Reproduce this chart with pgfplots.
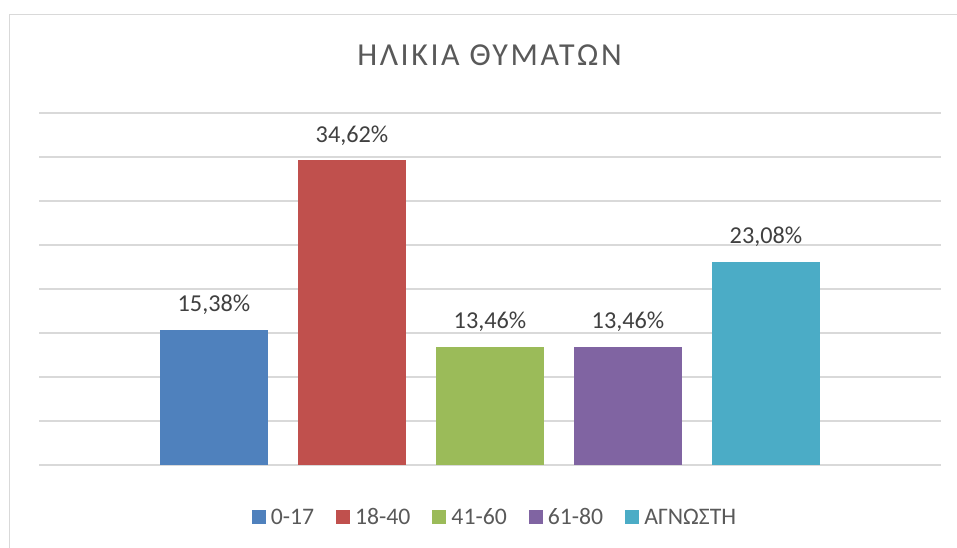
\documentclass[border=0pt]{standalone}
\usepackage{pgfplots}
\pgfplotsset{compat=1.18}
\usepackage{fontspec}
\setmainfont{Carlito}
\newfontfamily\titlefont[LetterSpace=8]{Carlito}
\definecolor{cA}{HTML}{4F81BD}
\definecolor{cB}{HTML}{C0504D}
\definecolor{cC}{HTML}{9BBB59}
\definecolor{cD}{HTML}{8064A2}
\definecolor{cE}{HTML}{4BACC6}
\definecolor{gridc}{HTML}{D9D9D9}
\definecolor{titlec}{HTML}{595959}
\definecolor{labc}{HTML}{404040}
\begin{document}
\begin{tikzpicture}[x=0.75pt,y=0.75pt]
\begin{axis}[
  scale only axis, width=676.5pt, height=264pt,
  xmin=-1.268, xmax=5.268, ymin=0, ymax=40,
  ytick={0,5,...,40}, yticklabels={}, xtick=\empty,
  major tick length=0pt,
  ymajorgrids, grid style={gridc, line width=1.1pt},
  axis line style={draw=none},
  ybar, bar width=0.7826, bar shift=0pt,
  point meta=explicit symbolic,
  nodes near coords,
  every node near coord/.append style={anchor=base, inner sep=0pt, yshift=13.5pt, text=labc, font=\fontsize{18.2}{21}\selectfont},
  legend columns=5,
  legend cell align=left,
  legend style={at={(0.5044,-0.149)}, anchor=center, draw=none, fill=none,
    font=\fontsize{17.8}{21}\selectfont, text=titlec,
    nodes={inner sep=0pt},
    /tikz/every odd column/.append style={column sep=3.75pt},
    /tikz/every even column/.append style={column sep=16.5pt}},
  legend image code/.code={\fill[#1] (0pt,-5.25pt) rectangle (10.5pt,5.25pt);},
  clip=false,
]
\addplot[fill=cA, draw=none] coordinates {(0,15.38) [15,38\%]};
\addplot[fill=cB, draw=none] coordinates {(1,34.62) [34,62\%]};
\addplot[fill=cC, draw=none] coordinates {(2,13.46) [13,46\%]};
\addplot[fill=cD, draw=none] coordinates {(3,13.46) [13,46\%]};
\addplot[fill=cE, draw=none] coordinates {(4,23.08) [23,08\%]};
\legend{0-17,18-40,41-60,61-80,ΑΓΝΩΣΤΗ}
\coordinate (AX) at (rel axis cs:0,0);
\end{axis}
\pgfresetboundingbox
\begin{scope}[shift={(AX)}, shift={(-39,-83)}]
\useasboundingbox (0,0) rectangle (957,548);
\draw[gridc,line width=1.1pt] (9.5,0) -- (9.5,533.5) -- (957,533.5);
\node[anchor=base, text=titlec, font=\titlefont\fontsize{24}{28}\selectfont, inner sep=0pt] at (489.5,482) {ΗΛΙΚΙΑ ΘΥΜΑΤΩΝ};
\end{scope}
\end{tikzpicture}
\end{document}
